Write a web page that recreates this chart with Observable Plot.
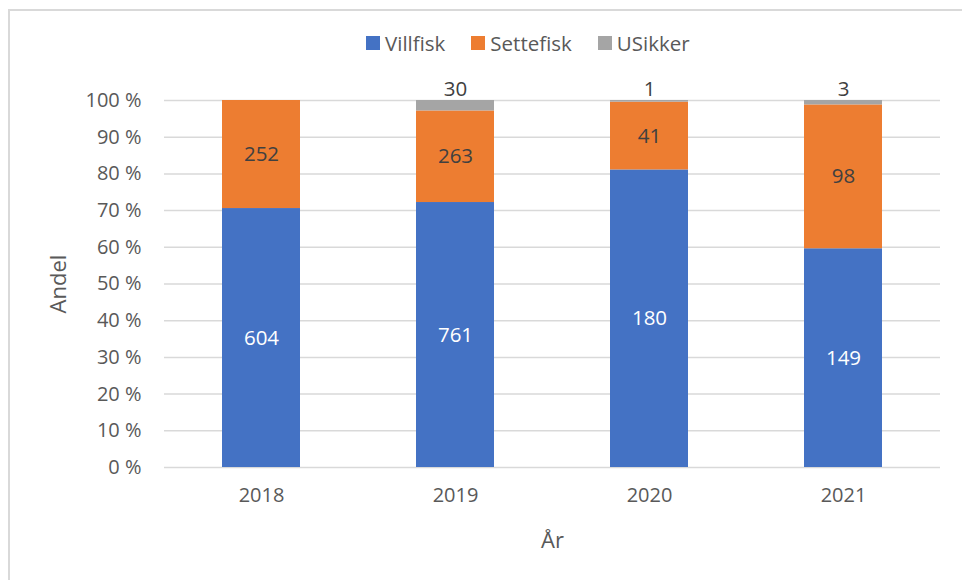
<!DOCTYPE html>
<html><head><meta charset="utf-8">
<script src="https://cdn.jsdelivr.net/npm/d3@7"></script>
<script src="https://cdn.jsdelivr.net/npm/@observablehq/plot@0.6"></script>
<style>
body{margin:0;background:#fff;font-family:"Open Sans",sans-serif;}
#wrap{position:relative;width:962px;height:580px;overflow:hidden;background:#fff;}
#frame{position:absolute;left:8px;top:9px;width:1000px;height:1000px;border:2px solid #d9d9d9;box-sizing:border-box;}
#chart{position:absolute;left:0;top:0;}
#legend{position:absolute;top:29px;left:366px;display:flex;align-items:center;font-size:20.5px;color:#595959;}
.item{display:flex;align-items:center;margin-right:26px;}
.sw{width:14px;height:14px;margin-right:5px;}
</style>
</head><body>
<div id="wrap"><div id="frame"></div><div id="chart"></div><div id="legend"></div></div>
<script>
const years = ["2018", "2019", "2020", "2021"];
const seriesNames = ["Villfisk", "Settefisk", "USikker"];
const villfisk = [604, 761, 180, 149];
const settefisk = [252, 263, 41, 98];
const usikker = [0, 30, 1, 3];
const colors = ["#4472C4", "#ED7D31", "#A5A5A5"];

const seriesValues = [villfisk, settefisk, usikker];
const data = years.flatMap((year, i) =>
  seriesNames.map((s, j) => ({year, series: s, value: seriesValues[j][i]})));

const chart = Plot.plot({
  width: 962,
  height: 580,
  marginLeft: 164,
  marginRight: 22,
  marginTop: 100,
  marginBottom: 113,
  style: {fontFamily: "'Open Sans', sans-serif", fontSize: "20px", color: "#595959", background: "transparent"},
  x: {domain: years, paddingInner: 0.6, paddingOuter: 0.3, label: null},
  y: {domain: [0, 1], label: null},
  color: {domain: seriesNames, range: colors},
  marks: [
    Plot.gridY(d3.range(0, 11).map(d => d / 10), {stroke: "#d9d9d9", strokeOpacity: 1, strokeWidth: 1.5}),
    Plot.barY(data, {x: "year", y: "value", fill: "series", offset: "normalize"}),
    Plot.text(data, Plot.stackY({x: "year", y: "value", z: "series", offset: "normalize",
      text: d => d.series === "Villfisk" ? d.value : null, fill: "white", fontSize: 20.5})),
    Plot.text(data, Plot.stackY({x: "year", y: "value", z: "series", offset: "normalize",
      text: d => d.series === "Settefisk" ? d.value : null, fill: "#404040", fontSize: 20.5})),
    Plot.text(data, Plot.stackY2({x: "year", y: "value", z: "series", offset: "normalize",
      text: d => d.series === "USikker" && d.value > 0 ? d.value : null, fill: "#404040", fontSize: 20.5, dy: -11})),
    Plot.axisY({ticks: d3.range(0, 11).map(d => d / 10), tickSize: 0, tickPadding: 23,
      tickFormat: d => Math.round(d * 100) + " %", label: "Andel", labelArrow: "none", labelAnchor: "center", labelOffset: 114, fontSize: 20}),
    Plot.axisX({tickSize: 0, tickPadding: 20, label: "År", labelArrow: "none", labelAnchor: "center", labelOffset: 80, fontSize: 20})
  ]
});
chart.querySelectorAll("[aria-label='y-axis label'] text, [aria-label='x-axis label'] text").forEach(t => {
  t.setAttribute("font-size", "22");
  t.textContent = t.textContent.replace(/\s*[→↑]\s*/g, "");
});
document.getElementById("chart").appendChild(chart);

const legend = document.getElementById("legend");
seriesNames.forEach((s, i) => {
  const it = document.createElement("div");
  it.className = "item";
  it.innerHTML = `<div class="sw" style="background:${colors[i]}"></div><span>${s}</span>`;
  legend.appendChild(it);
});
</script>
</body></html>
